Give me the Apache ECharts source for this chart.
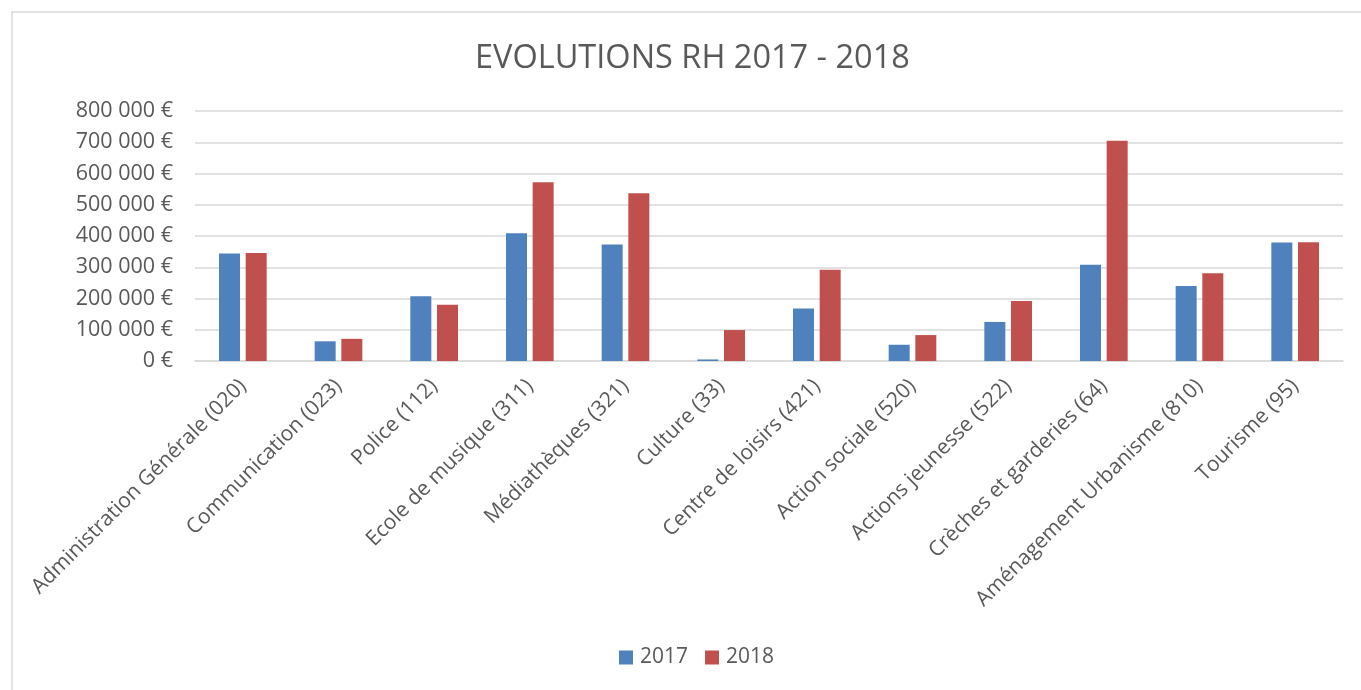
<!DOCTYPE html>
<html>
<head>
<meta charset="utf-8">
<script src="https://cdn.jsdelivr.net/npm/echarts@6/dist/echarts.min.js"></script>
<style>
  html, body { margin: 0; padding: 0; background: #fff; }
  #chart { width: 1361px; height: 690px; }
</style>
</head>
<body>
<div id="chart"></div>
<script>
const categories = [
  "Administration Générale (020)", "Communication (023)", "Police (112)",
  "Ecole de musique (311)", "Médiathèques (321)", "Culture (33)",
  "Centre de loisirs (421)", "Action sociale (520)", "Actions jeunesse (522)",
  "Crèches et garderies (64)", "Aménagement Urbanisme (810)", "Tourisme (95)"
];
const values2017 = [344000, 63000, 207000, 409000, 373000, 5000, 168000, 52000, 125000, 308000, 240000, 379000];
const values2018 = [346000, 71000, 180000, 572000, 537000, 99000, 292000, 83000, 192000, 705000, 281000, 380000];
const seriesNames = ["2017", "2018"];

const font = "'Open Sans', sans-serif";
const textColor = "#595959";

function euro(v) {
  return String(v).replace(/\B(?=(\d{3})+(?!\d))/g, " ") + " €";
}

const myChart = echarts.init(document.getElementById("chart"));
const option = {
  animation: false,
  textStyle: { fontFamily: font },
  title: {
    text: "EVOLUTIONS RH 2017 - 2018",
    left: 470,
    top: 37,
    textStyle: { fontFamily: font, fontSize: 32.5, fontWeight: "normal", color: textColor }
  },
  graphic: [{
    type: "rect",
    shape: { x: 12, y: 12, width: 1400, height: 700 },
    style: { fill: "none", stroke: "#d9d9d9", lineWidth: 1.5 },
    silent: true
  }],
  legend: {
    bottom: 17,
    left: 614,
    icon: "rect",
    itemWidth: 14,
    itemHeight: 14,
    itemGap: 17,
    textStyle: { fontFamily: font, fontSize: 21, color: textColor, padding: [0, 0, 0, 2] },
    data: seriesNames
  },
  grid: { left: 195, right: 18, top: 111, bottom: 329 },
  xAxis: {
    type: "category",
    data: categories,
    axisLine: { lineStyle: { color: "#d9d9d9", width: 1.5 } },
    axisTick: { show: false },
    axisLabel: {
      interval: 0,
      rotate: 45,
      margin: 22,
      fontFamily: font,
      fontSize: 21,
      color: textColor
    }
  },
  yAxis: {
    type: "value",
    min: 0,
    max: 800000,
    interval: 100000,
    axisLine: { show: false },
    axisTick: { show: false },
    splitLine: { lineStyle: { color: "#d9d9d9", width: 1.5 } },
    axisLabel: {
      margin: 22,
      fontFamily: font,
      fontSize: 21.5,
      color: textColor,
      formatter: euro
    }
  },
  series: [
    {
      name: seriesNames[0],
      type: "bar",
      data: values2017,
      barWidth: 21,
      barGap: "27%",
      itemStyle: { color: "#4f81bd" }
    },
    {
      name: seriesNames[1],
      type: "bar",
      data: values2018,
      barWidth: 21,
      barGap: "27%",
      itemStyle: { color: "#c0504d" }
    }
  ]
};
myChart.setOption(option);
window.addEventListener("resize", function () {
  myChart.resize();
});
</script>
</body>
</html>
